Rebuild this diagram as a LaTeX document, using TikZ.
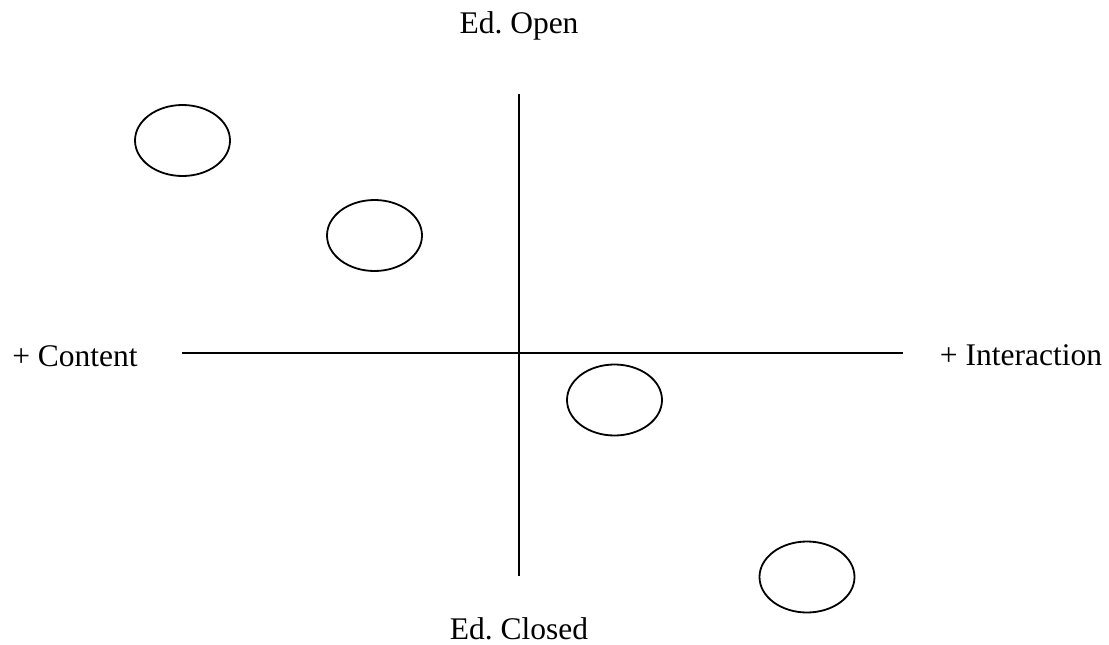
\documentclass[tikz,border=0pt]{standalone}
\usepackage{fontspec}
\setmainfont{Liberation Serif}
\usetikzlibrary{shapes.geometric}
\frenchspacing
\begin{document}
\begin{tikzpicture}[x=1pt,y=-1pt,
  lbl/.style={font=\fontsize{31.5}{36}\selectfont, inner sep=0pt, anchor=base},
  axis/.style={line width=2pt},
  oval/.style={draw, line width=1.8pt, ellipse, minimum width=95pt, minimum height=71pt, inner sep=0pt}]
\useasboundingbox (0,0) rectangle (1109,645);
\node[lbl] (open) at (519,33) {Ed. Open};
\node[lbl] (closed) at (519,639) {Ed. Closed};
\node[lbl] (content) at (75,366) {+ Content};
\node[lbl] (inter) at (1021,365) {+ Interaction};
\coordinate (vt) at (519,94);
\coordinate (vb) at (519,576);
\coordinate (hl) at (182,353);
\coordinate (hr) at (903,353);
\draw[axis] (vt) -- (vb);
\draw[axis] (hl) -- (hr);
\node[oval] (e1) at (182.5,140.5) {};
\node[oval] (e2) at (374.5,235.5) {};
\node[oval] (e3) at (614.5,400) {};
\node[oval] (e4) at (807,577) {};
\end{tikzpicture}
\end{document}
